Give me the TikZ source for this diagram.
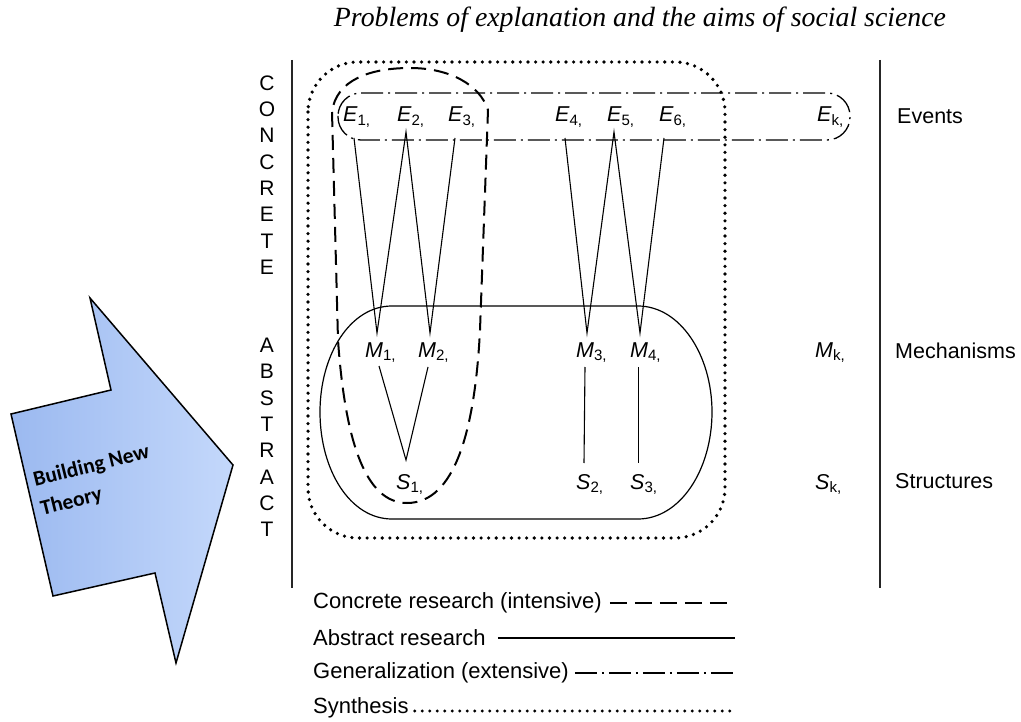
\documentclass[tikz,border=0pt]{standalone}
\usepackage{fontspec}
\setmainfont{Liberation Sans}
\newfontfamily\titlefont{Liberation Serif}
\newfontfamily\arrowfont{Carlito}
\usetikzlibrary{calc}
\newcommand{\lab}[2]{{\itshape #1}\textsubscript{#2,}}
\begin{document}
\begin{tikzpicture}[x=1pt,y=-1pt,
  txt/.style={inner sep=0pt,font=\fontsize{21.5}{25}\selectfont},
  legtxt/.style={inner sep=0pt,anchor=west,font=\fontsize{22}{25}\selectfont},
  sym/.style={inner sep=0pt,anchor=base west,font=\fontsize{21.5}{25}\selectfont},
  vword/.style={inner sep=0pt,align=center,font=\fontsize{21}{26.3}\selectfont},
  conn/.style={line width=1.1pt},
  axis/.style={line width=1.8pt,black!85},
  concretebox/.style={line width=2pt,dash pattern=on 15pt off 8pt},
  abstractbox/.style={line width=1.2pt},
  genbox/.style={line width=1.3pt,dash pattern=on 22pt off 5pt on 2pt off 5pt},
  synthbox/.style={line width=3.6pt,line cap=round,dash pattern=on 0pt off 7.6pt}]
\useasboundingbox (0,0) rectangle (1021,722);

% title
\node[inner sep=0pt,font=\titlefont\itshape\fontsize{27.8}{30}\selectfont] (title) at (640,20)
  {Problems of explanation and the aims of social science};

% arrow
\shade[left color={rgb,255:red,155;green,185;blue,240}, right color={rgb,255:red,196;green,216;blue,251}, draw=black, line width=1.5pt]
  (90,298) -- (111,390) -- (11,414) -- (53,596) -- (155,573) -- (176,663) -- (233,465) -- cycle;
\node[inner sep=0pt,align=left,rotate=14,font=\arrowfont\bfseries\fontsize{21.5}{30}\selectfont] (bnt) at (95,481)
  {Building New\\Theory};

% axes
\coordinate (la) at (292,60); \coordinate (lb) at (292,588);
\coordinate (ra) at (880,60); \coordinate (rb) at (880,588);
\draw[axis] (la) -- (lb);
\draw[axis] (ra) -- (rb);
\node[vword] (concrete) at (267,175) {C\\O\\N\\C\\R\\E\\T\\E};
\node[vword] (abstract) at (267,437.5) {A\\B\\S\\T\\R\\A\\C\\T};

% level labels
\node[txt,anchor=west] (events) at (897,116) {Events};
\node[txt,anchor=west] (mech) at (895,351) {Mechanisms};
\node[txt,anchor=west] (struct) at (895,481) {Structures};

% events
\node[sym] (E1) at (343,122) {\lab{E}{1}};
\node[sym] (E2) at (397,122) {\lab{E}{2}};
\node[sym] (E3) at (448,122) {\lab{E}{3}};
\node[sym] (E4) at (555,122) {\lab{E}{4}};
\node[sym] (E5) at (607,122) {\lab{E}{5}};
\node[sym] (E6) at (659,122) {\lab{E}{6}};
\node[sym] (Ek) at (817,122) {\lab{E}{k}};
% mechanisms
\node[sym] (M1) at (365,357) {\lab{M}{1}};
\node[sym] (M2) at (418,357) {\lab{M}{2}};
\node[sym] (M3) at (576,357) {\lab{M}{3}};
\node[sym] (M4) at (630,357) {\lab{M}{4}};
\node[sym] (Mk) at (815,357) {\lab{M}{k}};
% structures
\node[sym] (S1) at (396,489) {\lab{S}{1}};
\node[sym] (S2) at (576,489) {\lab{S}{2}};
\node[sym] (S3) at (630,489) {\lab{S}{3}};
\node[sym] (Sk) at (815,489) {\lab{S}{k}};

% E -> M connectors
\draw[conn] ($(E1.base west)+(11,16)$) -- ($(M1.base west)+(12,-24)$) -- ($(E2.base west)+(9,10)$) -- ($(M2.base west)+(12,-24)$) -- ($(E3.base west)+(7,16)$);
\draw[conn] ($(E4.base west)+(10,16)$) -- ($(M3.base west)+(11,-24)$) -- ($(E5.base west)+(7,10)$) -- ($(M4.base west)+(10,-24)$) -- ($(E6.base west)+(5,16)$);
% M -> S connectors
\draw[conn] ($(M1.base west)+(14,9)$) -- ($(S1.base west)+(10,-29)$) -- ($(M2.base west)+(10,10)$);
\draw[conn] ($(M3.base west)+(9,10)$) -- ($(S2.base west)+(8,-26)$);
\draw[conn] ($(M4.base west)+(8.4,10)$) -- ($(S3.base west)+(8.4,-26)$);

% generalization (events box)
\draw[genbox,rounded corners=23pt] (338,93) rectangle (850,140);

% abstract research box
\draw[abstractbox] (320,412) .. controls (320,355) and (350,306) .. (392,306) -- (638,306)
  .. controls (680,306) and (712,355) .. (712,412) .. controls (712,470) and (680,519) .. (638,519)
  -- (392,519) .. controls (350,519) and (320,470) .. (320,412) -- cycle;

% concrete research (dashed U)
\draw[concretebox] (332,112) -- (338,340) .. controls (345,440) and (365,503) .. (407,503)
  .. controls (455,503) and (475,430) .. (480,330) -- (488,110)
  .. controls (480,85) and (450,68) .. (410,68) .. controls (370,68) and (336,80) .. (332,112);

% synthesis (dotted)
\draw[synthbox,rounded corners=50pt] (308,62) rectangle (725,538);

% legend
\node[legtxt] (lc) at (313,603) {Concrete research (intensive)};
\node[legtxt] (la2) at (313,638) {Abstract research};
\node[legtxt] (lg) at (313,673) {Generalization (extensive)};
\node[legtxt] (ls) at (313,708) {Synthesis};
\coordinate (lce) at (733,603);
\coordinate (lae) at (735,638);
\coordinate (lge) at (735,673);
\coordinate (lse) at (736,711);
\draw[line width=1.8pt,dash pattern=on 17pt off 8pt] ([xshift=8pt]lc.east) -- (lce);
\draw[abstractbox] ([xshift=12pt]la2.east) -- (lae);
\draw[genbox] ([xshift=6pt]lg.east) -- (lge);
\draw[line width=3.4pt,line cap=round,dash pattern=on 0pt off 7.5pt] ([xshift=6pt,yshift=-3pt]ls.east) -- (lse);
\end{tikzpicture}
\end{document}
